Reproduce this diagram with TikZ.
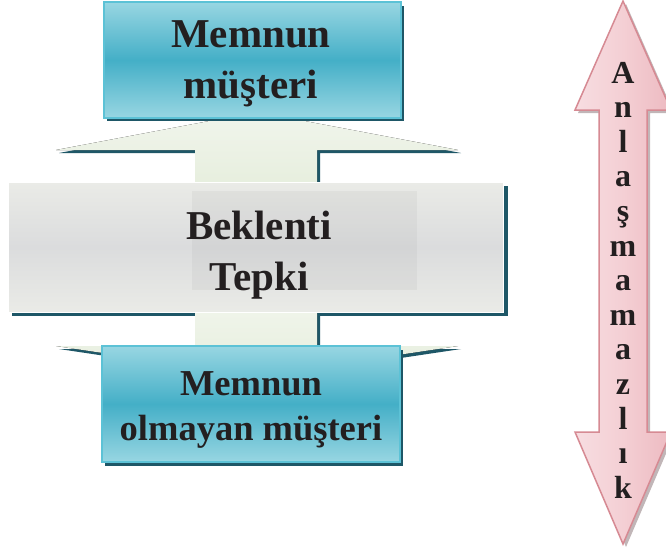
\documentclass[tikz,border=0pt]{standalone}
\usepackage{fontspec}
\setmainfont{Liberation Serif}
\usetikzlibrary{calc}
\definecolor{tealshadow}{HTML}{1E5767}
\definecolor{boxedge}{HTML}{5CC2D6}
\definecolor{boxlight}{HTML}{98D6E2}
\definecolor{boxdark}{HTML}{44AFC7}
\definecolor{greylight}{HTML}{EAEBE7}
\definecolor{greydark}{HTML}{DBDCDD}
\definecolor{greeny}{HTML}{E6EEDD}
\definecolor{greenylight}{HTML}{F1F5EC}
\definecolor{pinkedge}{HTML}{D68A93}
\definecolor{pinklight}{HTML}{F7DDE1}
\definecolor{pinkmid}{HTML}{F4CFD4}
\definecolor{pinkdark}{HTML}{EDBAC1}
\definecolor{pinkshadow}{HTML}{A8989A}
\definecolor{ink}{HTML}{231F20}
\tikzset{
  custbox/.style={draw=boxedge, line width=2pt, top color=boxlight,
    bottom color=boxlight, middle color=boxdark, minimum width=297pt,
    minimum height=116pt, inner sep=0pt},
  bigtext/.style={text=ink, font=\bfseries\fontsize{41}{51}\selectfont,
    anchor=base, inner sep=0pt},
  smalltext/.style={text=ink, font=\bfseries\fontsize{36.5}{45}\selectfont,
    anchor=base, inner sep=0pt},
  letter/.style={text=ink, font=\bfseries\fontsize{32}{34}\selectfont,
    anchor=base, inner sep=0pt},
  greenarrow/.style={top color=greenylight, bottom color=greeny},
}
\begin{document}
\begin{tikzpicture}[x=1pt,y=-1pt]
\useasboundingbox (0,0) rectangle (666,549);
\fill[white] (0,0) rectangle (666,549);

% shadows of the two broad arrows and of the central panel
\begin{scope}[shift={(3,3)}]
  \fill[tealshadow] (257,112) -- (458,150) -- (317,150) -- (317,190)
    -- (195,190) -- (195,150) -- (56,150) -- cycle;
  \fill[tealshadow] (195,300) -- (317,300) -- (317,346) -- (458,346)
    -- (257,376) -- (56,346) -- (195,346) -- cycle;
\end{scope}
\fill[tealshadow] (12,186) rectangle (508,316);

% broad arrows (up to the satisfied customer, down to the unsatisfied one)
\fill[greenarrow] (257,112) -- (458,150) -- (317,150) -- (317,190)
  -- (195,190) -- (195,150) -- (56,150) -- cycle;
\fill[greenarrow] (195,300) -- (317,300) -- (317,346) -- (458,346)
  -- (257,376) -- (56,346) -- (195,346) -- cycle;

% central panel
\node[draw=white, line width=0.8pt, top color=greylight, bottom color=greylight,
  middle color=greydark, minimum width=495pt, minimum height=130pt,
  inner sep=0pt] (mid) at (255.5,247) {};
\fill[black, opacity=0.035] (192,191) rectangle (417,290);
\node[bigtext] (mid1) at (259,239) {Beklenti};
\node[bigtext] (mid2) at (259,290) {Tepki};

% top box
\fill[tealshadow] (107,6) rectangle (404,121);
\node[custbox] (top) at (252.5,60) {};
\node[bigtext] (top1) at (251,47) {Memnun};
\node[bigtext] (top2) at (251,98) {müşteri};

% bottom box
\fill[tealshadow] (105,350) rectangle (403,466);
\node[custbox, minimum width=298pt] (bot) at (251,404) {};
\node[smalltext] (bot1) at (251,395) {Memnun};
\node[smalltext] (bot2) at (251,440) {olmayan müşteri};

% double arrow on the right
\fill[pinkshadow, opacity=0.7] (626,4) -- (674,113) -- (650,113) -- (650,435)
  -- (674,435) -- (626,547) -- (578,435) -- (602,435) -- (602,113)
  -- (578,113) -- cycle;
\draw[pinkedge, line width=1.5pt, left color=pinklight, right color=pinkdark,
  middle color=pinkmid]
  (623,1) -- (671,110) -- (647,110) -- (647,432) -- (671,432) -- (623,544)
  -- (575,432) -- (599,432) -- (599,110) -- (575,110) -- cycle;
\foreach \ch [count=\i] in {A,n,l,a,ş,m,a,m,a,z,l,ı,k}
  \node[letter] (let\i) at (623,{83+34.6*(\i-1)}) {\ch};
\end{tikzpicture}
\end{document}
